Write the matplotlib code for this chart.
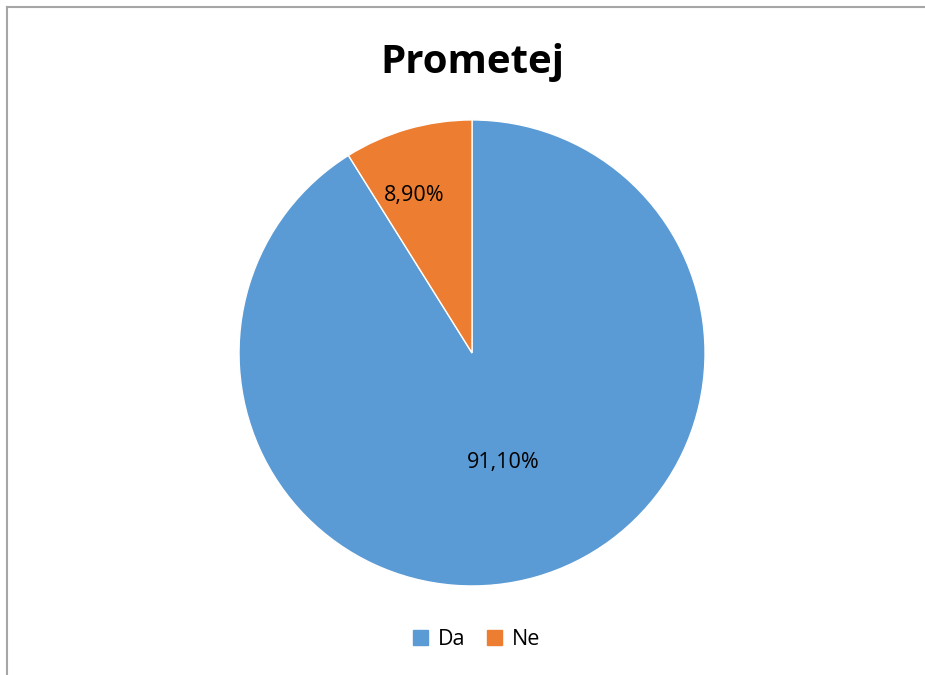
import numpy as np
import matplotlib.pyplot as plt
from matplotlib.lines import Line2D

# --- Data ---
categories = ["Da", "Ne"]
shares = [91.10, 8.90]
share_labels = ["91,10%", "8,90%"]
label_radius = [0.49, 0.72]
label_shift_deg = [0, 4]
colors = ["#5B9BD5", "#ED7D31"]
title = "Prometej"

plt.rcParams['font.family'] = ['Open Sans', 'DejaVu Sans']

fig = plt.figure(figsize=(9.25, 6.75), dpi=100)

# grey frame on top and left (chart area border)
fig.add_artist(Line2D([0.0075, 0.0075], [0, 0.989], color="#a6a6a6", lw=1.5, transform=fig.transFigure))
fig.add_artist(Line2D([0.0075, 1.0], [0.989, 0.989], color="#a6a6a6", lw=1.5, transform=fig.transFigure))

ax = fig.add_axes([0.2584, 0.1319, 0.5038, 0.6904])
wedges, _ = ax.pie(shares, colors=colors, startangle=90, counterclock=False,
                   radius=1, wedgeprops=dict(edgecolor="white", linewidth=1))
ax.set_xlim(-1, 1)
ax.set_ylim(-1, 1)
ax.set_aspect("equal")
ax.axis("off")

for w, lab, r, sh in zip(wedges, share_labels, label_radius, label_shift_deg):
    ang = np.deg2rad((w.theta1 + w.theta2) / 2 + sh)
    ax.text(r * np.cos(ang), r * np.sin(ang), lab, ha="center", va="center",
            fontsize=15.5, color="black")

fig.text(0.5103, 0.908, title, ha="center", va="center", fontsize=29,
         fontweight="bold", color="black")

handles = [plt.Rectangle((0, 0), 1, 1, color=c) for c in colors]
fig.legend(handles, categories, loc="center", bbox_to_anchor=(0.515, 0.052),
           ncol=2, frameon=False, fontsize=15.5, handlelength=0.7, handleheight=0.7,
           handletextpad=0.45, columnspacing=1.0)

fig.savefig("out.png", dpi=100)
